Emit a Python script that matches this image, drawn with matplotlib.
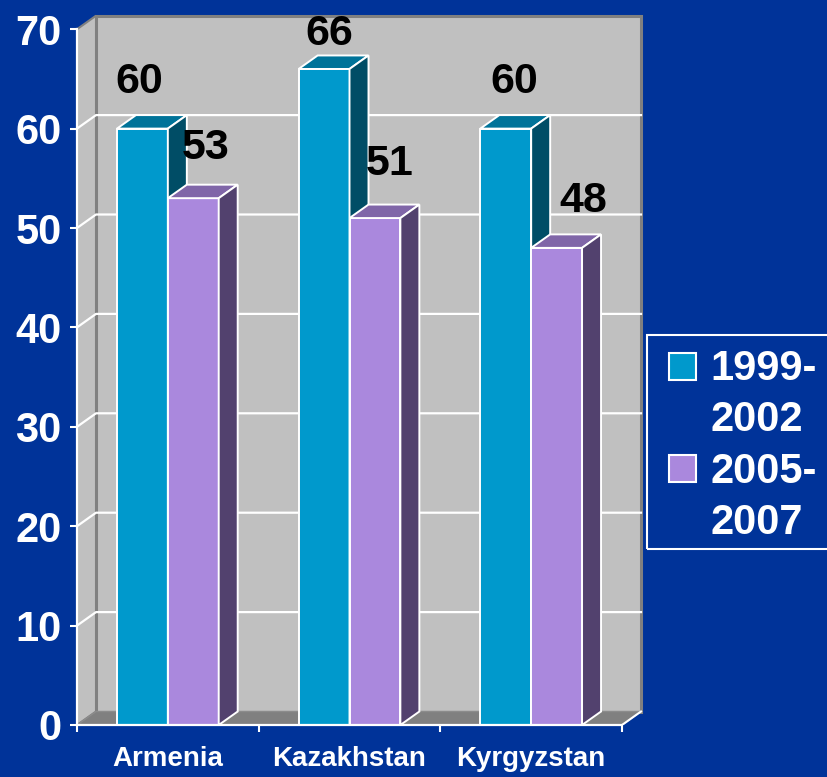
import matplotlib
matplotlib.use("Agg")
import matplotlib.pyplot as plt
from matplotlib.patches import Polygon, Rectangle

# data
countries = ["Armenia", "Kazakhstan", "Kyrgyzstan"]
series = ["1999-\n2002", "2005-\n2007"]
values = [[60, 66, 60],   # 1999-2002
          [53, 51, 48]]   # 2005-2007
yticks = [0, 10, 20, 30, 40, 50, 60, 70]

# style
bg = "#003399"
wall = "#C0C0C0"
floor = "#808080"
front_col = ["#0099CC", "#AA88DD"]
top_col = ["#007399", "#8066A8"]
side_col = ["#004D66", "#52416E"]
# label nudges in pixels (dx, dy above front top)
nudge = [[(-3.5, 47), (5, 35), (8.5, 47)],
         [(12.5, 50), (15, 54), (26.5, 47)]]

W, H = 827, 777
fig = plt.figure(figsize=(W / 100, H / 100), dpi=100, facecolor=bg)

px_x = 181.67   # pixels per category
px_y = 9.94     # pixels per unit
x_lim = 3.2
y_lim = 72
ax = fig.add_axes([77 / W, 52 / H, x_lim * px_x / W, y_lim * px_y / H])
ax.set_xlim(0, x_lim)
ax.set_ylim(0, y_lim)
ax.patch.set_alpha(0)

DX = 19 / px_x
DY = 13.5 / px_y
ncat = len(countries)
ymax = yticks[-1]

# walls and floor
ax.add_patch(Polygon([(DX, DY), (ncat + DX, DY), (ncat + DX, ymax + DY), (DX, ymax + DY)],
                     closed=True, fc=wall, ec=floor, lw=2.2, zorder=1))
ax.add_patch(Polygon([(0, 0), (DX, DY), (DX, ymax + DY), (0, ymax)],
                     closed=True, fc=wall, ec=floor, lw=1.5, zorder=1))
ax.add_patch(Polygon([(0, 0), (ncat, 0), (ncat + DX, DY), (DX, DY)],
                     closed=True, fc=floor, ec="#8C8C8C", lw=1, zorder=1.5))
ax.plot([ncat, ncat + DX], [0, DY], color="white", lw=1.5, zorder=1.6)

for v in yticks[1:-1]:
    ax.plot([0, DX, ncat + DX], [v, v + DY, v + DY], color="white", lw=1.6, zorder=1.2)

# bars
bw = 0.28
for c in range(ncat):
    for s in range(len(series)):
        x0 = c + 0.5 - bw + s * bw
        h = values[s][c]
        ax.add_patch(Rectangle((x0, 0), bw, h, fc=front_col[s], ec="white", lw=1.4, zorder=3))
        ax.add_patch(Polygon([(x0, h), (x0 + bw, h), (x0 + bw + DX, h + DY), (x0 + DX, h + DY)],
                             closed=True, fc=top_col[s], ec="white", lw=1.4, zorder=3))
        ax.add_patch(Polygon([(x0 + bw, 0), (x0 + bw + DX, DY), (x0 + bw + DX, h + DY), (x0 + bw, h)],
                             closed=True, fc=side_col[s], ec="white", lw=1.4, zorder=3))
        nx, ny = nudge[s][c]
        ax.annotate(str(h), xy=(x0 + bw / 2, h), xytext=(nx * 0.72, ny * 0.72),
                    textcoords="offset points", ha="center", va="center",
                    fontsize=31, fontweight="bold", family="Liberation Sans",
                    color="black", zorder=5)

# axes
for side in ["top", "right"]:
    ax.spines[side].set_visible(False)
ax.spines["left"].set_bounds(0, ymax)
ax.spines["bottom"].set_bounds(0, ncat)
for side in ["left", "bottom"]:
    ax.spines[side].set_color("white")
    ax.spines[side].set_linewidth(1.6)
    ax.spines[side].set_zorder(4)

ax.set_yticks(yticks)
ax.set_yticklabels([str(t) for t in yticks])
ax.tick_params(axis="y", colors="white", length=5, width=1.5, pad=6,
               labelsize=30)
ax.set_xticks(range(ncat + 1))
ax.set_xticklabels([])
ax.set_xticks([c + 0.5 for c in range(ncat)], minor=True)
ax.set_xticklabels(countries, minor=True)
ax.tick_params(axis="x", which="major", colors="white", length=5, width=1.5)
ax.tick_params(axis="x", which="minor", colors="white", length=0, pad=15, labelsize=20)
for lab in ax.get_yticklabels() + ax.get_xticklabels(minor=True):
    lab.set_fontweight("bold")
    lab.set_family("Liberation Sans")

# legend (drawn by hand)
def fx(p):
    return p / W

def fy(p):
    return 1 - p / H

fig.patches.append(Rectangle((fx(647), fy(549)), fx(200), (549 - 335) / H,
                             transform=fig.transFigure, fill=False, ec="white", lw=1.5))
for s, name in enumerate(series):
    top = 353 + s * 102
    fig.patches.append(Rectangle((fx(669), fy(top + 27)), fx(27), 27 / H,
                                 transform=fig.transFigure, fc=front_col[s], ec="white", lw=1.5))
    for i, line in enumerate(name.split("\n")):
        fig.text(fx(710), fy(369 + s * 103 + i * 51), line, color="white",
                 fontsize=30, fontweight="bold", family="Liberation Sans",
                 ha="left", va="center")

fig.savefig("out.png", dpi=100, facecolor=bg)
